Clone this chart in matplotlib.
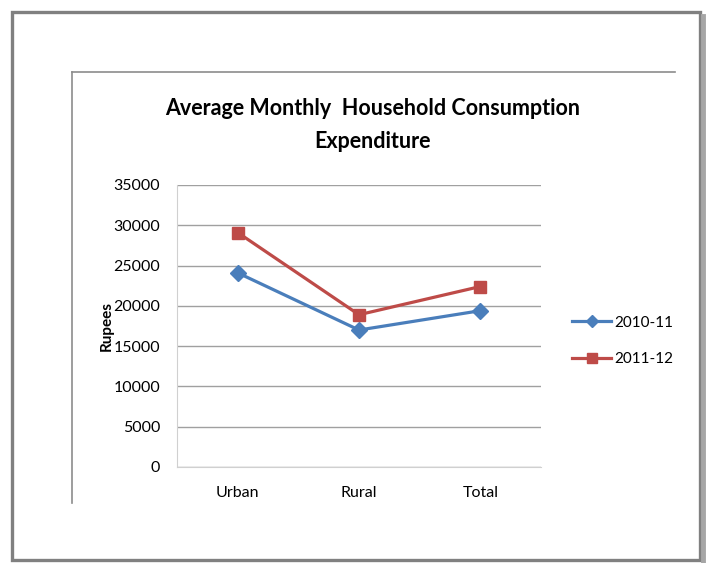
import matplotlib.pyplot as plt
from matplotlib.lines import Line2D
from matplotlib.patches import Rectangle

# data
categories = ['Urban', 'Rural', 'Total']
series_names = ['2010-11', '2011-12']
values_2010 = [24100, 17000, 19400]
values_2011 = [29100, 18900, 22400]
yticks = [0, 5000, 10000, 15000, 20000, 25000, 30000, 35000]

W, H = 712, 563
plt.rcParams['font.family'] = ['Lato', 'DejaVu Sans']

fig = plt.figure(figsize=(W / 100, H / 100), dpi=100)

def fx(x):
    return x / W

def fy(y):
    return 1 - y / H

# outer frame with shadow on the right
fig.add_artist(Line2D([fx(703), fx(703)], [fy(16), fy(561)], color='#a6a6a6', lw=3.5))
fig.add_artist(Rectangle((fx(12), fy(560)), fx(688), 548 / H, fill=False,
                         edgecolor='#808080', lw=2.4))
# inner chart box (top and left edges)
fig.add_artist(Line2D([fx(72), fx(675)], [fy(72), fy(72)], color='#8c8c8c', lw=1.2))
fig.add_artist(Line2D([fx(72), fx(72)], [fy(72), fy(503)], color='#8c8c8c', lw=1.2))

ax = fig.add_axes([fx(177), fy(467), fx(541) - fx(177), fy(185) - fy(467)])
x = range(len(categories))
blue = '#4A7EBB'
red = '#BE4B48'
ax.plot(x, values_2010, color=blue, lw=2.3, marker='D', ms=8, label=series_names[0], zorder=3)
ax.plot(x, values_2011, color=red, lw=2.3, marker='s', ms=9, label=series_names[1], zorder=3)

ax.set_xlim(-0.5, 2.5)
ax.set_ylim(0, 35000)
ax.set_yticks(yticks)
ax.set_yticklabels([str(v) for v in yticks], fontsize=11.5)
ax.set_xticks(list(x))
ax.set_xticklabels(categories, fontsize=11.5)
ax.tick_params(length=0)
ax.tick_params(axis='y', pad=12)
ax.tick_params(axis='x', pad=14)
ax.grid(axis='y', color='#a0a0a0', lw=1.0)
ax.set_axisbelow(True)
for s in ['top', 'right']:
    ax.spines[s].set_visible(False)
ax.spines['left'].set_color('#d0d0d0')
ax.spines['bottom'].set_color('#d0d0d0')
ax.set_ylabel('Rupees', fontsize=11, fontweight='bold', labelpad=0)

fig.text(fx(373), fy(125), 'Average Monthly  Household Consumption\nExpenditure',
         ha='center', va='center', fontsize=15.5, fontweight='bold', linespacing=1.75)

fig.legend(loc='center left', bbox_to_anchor=(fx(558), fy(341)), frameon=False,
           fontsize=11, handlelength=2.6, labelspacing=1.5, handletextpad=0.2,
           markerscale=0.75)

fig.savefig('out.png', dpi=100)
